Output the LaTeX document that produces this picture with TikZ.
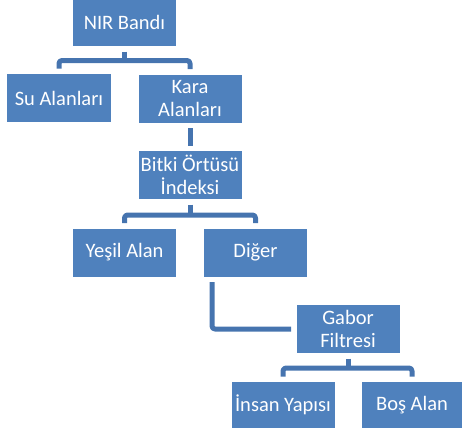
\documentclass[tikz,border=0pt]{standalone}
\usepackage{fontspec}
\setmainfont{Carlito}
\definecolor{boxblue}{HTML}{4F81BD}
\definecolor{lineblue}{HTML}{4674AF}
\begin{document}
\begin{tikzpicture}[x=1bp,y=-1bp,
  box/.style={fill=boxblue, text=white, minimum width=103bp, minimum height=48bp,
    inner sep=0pt, outer sep=5.5bp, align=center,
    font=\fontsize{20.5bp}{23bp}\selectfont},
  conn/.style={draw=lineblue, line width=5bp, rounded corners=3bp, line join=round}]
\useasboundingbox (0,0) rectangle (462,429);
\node[box, minimum height=47bp] (nir) at (124.5,22.5) {NIR Bandı};
\node[box] (su) at (59,98) {Su Alanları};
\node[box] (kara) at (190,98.5) {Kara\\Alanları};
\node[box] (bitki) at (190,175) {Bitki Örtüsü\\İndeksi};
\node[box] (yesil) at (124.5,252.5) {Yeşil Alan};
\node[box] (diger) at (255.5,252.5) {Diğer};
\node[box] (gabor) at (348,329) {Gabor\\Filtresi};
\node[box, minimum height=46bp] (insan) at (283,405) {İnsan Yapısı};
\node[box, minimum width=100bp, minimum height=46bp] (bos) at (412,405) {Boş Alan};
% connectors
\draw[conn] (nir.south) -- ++(0,9) coordinate (c1);
\draw[conn] (su.north) |- (c1) -| (kara.north);
\draw[conn] (kara.south) -- (bitki.north);
\draw[conn] (bitki.south) -- ++(0,10.5) coordinate (c2);
\draw[conn] (yesil.north) |- (c2) -| (diger.north);
\draw[conn] ([xshift=13.5bp]diger.south west) |- (gabor.west);
\draw[conn] (gabor.south) -- ++(0,9.5) coordinate (c3);
\draw[conn] (insan.north) |- (c3) -| (bos.north);
\end{tikzpicture}
\end{document}
